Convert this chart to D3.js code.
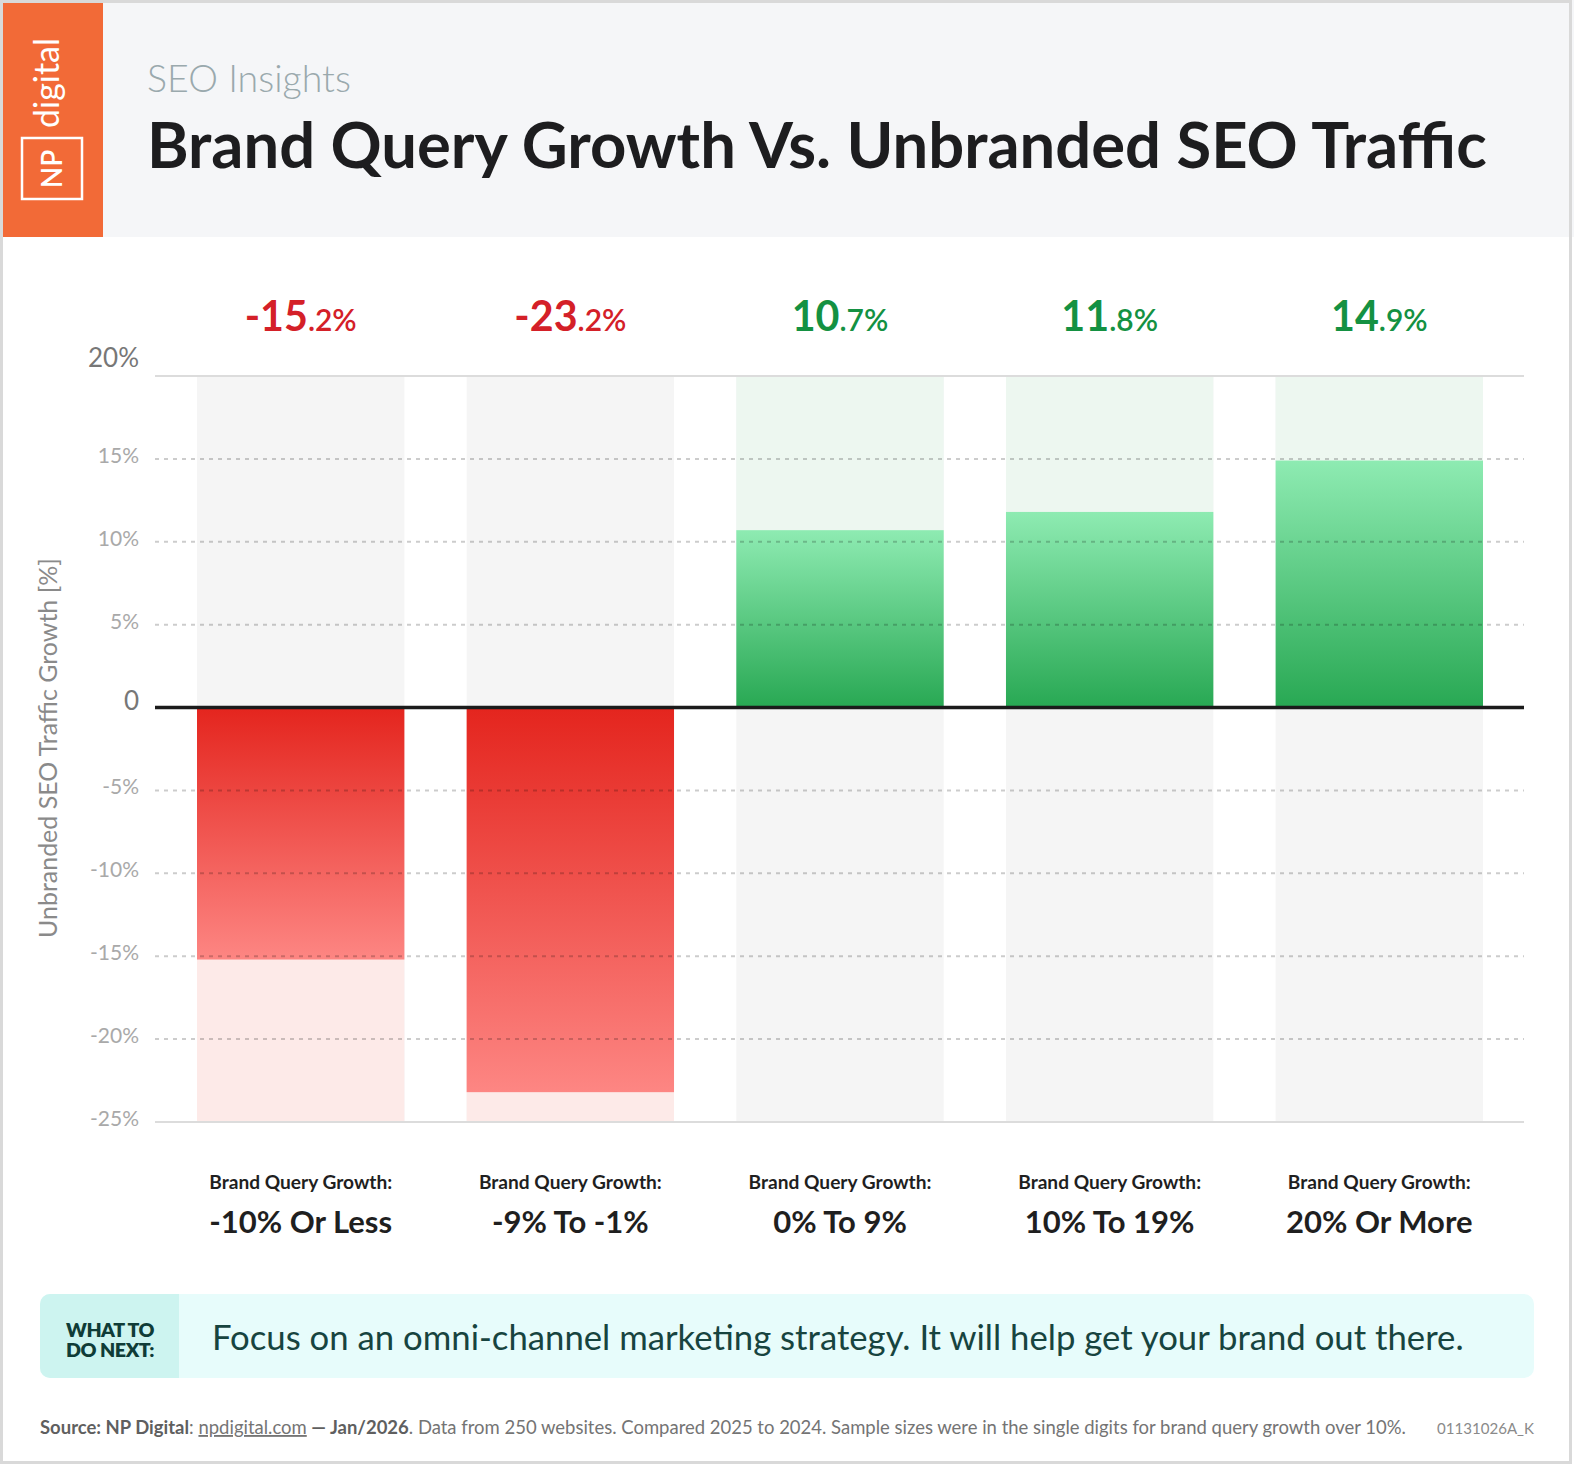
<!DOCTYPE html>
<html>
<head>
<meta charset="utf-8">
<script src="https://cdn.jsdelivr.net/npm/d3@7"></script>
<style>
    body { margin: 0; background: #fff; }
    svg { display: block; font-family: Lato, 'Open Sans', sans-serif; }
</style>
</head>
<body>
<div class="canvas"></div>
<script>
const categories = ['-10% Or Less', '-9% To -1%', '0% To 9%', '10% To 19%', '20% Or More'];
const values = [-15.2, -23.2, 10.7, 11.8, 14.9];
const yTicks = [20, 15, 10, 5, 0, -5, -10, -15, -20, -25];
const categoryPrefix = 'Brand Query Growth:';

const width = 1574, height = 1466;
const plotL = 155, plotR = 1524, plotT = 376, plotB = 1122;

const svg = d3.select('.canvas')
    .append('svg')
    .attr('width', width)
    .attr('height', height)
    ;

// scale font-size so the text is the wanted width, returns factor
const fit = (sel, target) => {
    const k = target / sel.node().getComputedTextLength();
    sel.style('font-size', (parseFloat(sel.style('font-size')) * k) + 'px');
    return k;
};

const defs = svg.append('defs');
const redGrad = defs.append('linearGradient').attr('id', 'red-grad').attr('x1', 0).attr('y1', 0).attr('x2', 0).attr('y2', 1);
redGrad.append('stop').attr('offset', '0%').attr('stop-color', '#e4251e');
redGrad.append('stop').attr('offset', '100%').attr('stop-color', '#fd8683');
const greenGrad = defs.append('linearGradient').attr('id', 'green-grad').attr('x1', 0).attr('y1', 0).attr('x2', 0).attr('y2', 1);
greenGrad.append('stop').attr('offset', '0%').attr('stop-color', '#8eebb2');
greenGrad.append('stop').attr('offset', '100%').attr('stop-color', '#28a853');

//Header
svg.append('rect')
    .attr('x', 0).attr('y', 0)
    .attr('width', width).attr('height', 237)
    .attr('fill', '#f5f6f8')
    ;
svg.append('rect')
    .attr('x', 0).attr('y', 0)
    .attr('width', 103).attr('height', 237)
    .attr('fill', '#f26a37')
    ;
svg.append('rect')
    .attr('x', 22).attr('y', 138)
    .attr('width', 60).attr('height', 61)
    .attr('fill', 'none')
    .attr('stroke', '#fff')
    .attr('stroke-width', 2.5)
    ;
svg.append('text')
    .attr('transform', 'translate(62, 169) rotate(-90)')
    .attr('text-anchor', 'middle')
    .attr('fill', '#fff')
    .style('font-size', '28px')
    .style('font-weight', 600)
    .text('NP')
    ;
const logoText = svg.append('text')
    .attr('transform', 'translate(59, 128) rotate(-90)')
    .attr('fill', '#fff')
    .style('font-size', '28px')
    .text('digital')
    ;
fit(logoText, 90);

svg.append('text')
    .attr('x', 147).attr('y', 92)
    .attr('fill', '#9aa9ad')
    .style('font-size', '38px')
    .style('font-weight', 300)
    .text('SEO Insights')
    .call(s => fit(s, 204))
    ;
svg.append('text')
    .attr('id', 'title')
    .attr('x', 147).attr('y', 168)
    .attr('fill', '#1d1d1f')
    .style('font-size', '60px')
    .style('font-weight', 700)
    .text('Brand Query Growth Vs. Unbranded SEO Traffic')
    .call(s => fit(s, 1340))
    ;

//Scales
const xScale = d3.scaleBand()
    .domain(categories)
    .range([197, 1483])
    .paddingInner(0.231)
    ;
const yScale = d3.scaleLinear()
    .domain([-25, 20])
    .range([plotB, plotT])
    ;
const y0 = yScale(0);

//Column backgrounds and tracks
const cols = svg.append('g').attr('id', 'columns');
cols.selectAll('rect.bg')
    .data(categories)
    .enter()
    .append('rect')
    .attr('class', 'bg')
    .attr('x', d => xScale(d))
    .attr('width', xScale.bandwidth())
    .attr('y', plotT)
    .attr('height', plotB - plotT)
    .attr('fill', '#f5f5f5')
    ;
cols.selectAll('rect.track')
    .data(values)
    .enter()
    .append('rect')
    .attr('class', 'track')
    .attr('x', (d, i) => xScale(categories[i]))
    .attr('width', xScale.bandwidth())
    .attr('y', d => d < 0 ? y0 : plotT)
    .attr('height', d => d < 0 ? plotB - y0 : y0 - plotT)
    .attr('fill', d => d < 0 ? '#fdeae8' : '#edf7f0')
    ;

//Bars
svg.selectAll('rect.bar')
    .data(values)
    .enter()
    .append('rect')
    .attr('class', 'bar')
    .attr('x', (d, i) => xScale(categories[i]))
    .attr('width', xScale.bandwidth())
    .attr('y', d => yScale(Math.max(0, d)))
    .attr('height', d => Math.abs(yScale(d) - y0))
    .attr('fill', d => d < 0 ? 'url(#red-grad)' : 'url(#green-grad)')
    ;

//Grid lines
svg.append('g')
    .attr('id', 'grid')
    .selectAll('line')
    .data(yTicks)
    .enter()
    .append('line')
    .attr('x1', plotL).attr('x2', plotR)
    .attr('y1', d => yScale(d)).attr('y2', d => yScale(d))
    .attr('stroke', d => d === 0 ? '#1b1b1b' : (d === 20 || d === -25) ? '#dcdcdc' : '#000')
    .attr('stroke-opacity', d => (d === 0 || d === 20 || d === -25) ? 1 : 0.2)
    .attr('stroke-width', d => d === 0 ? 3.5 : 2)
    .attr('stroke-dasharray', d => (d === 0 || d === 20 || d === -25) ? null : '4 5')
    ;
svg.select('#grid').selectAll('line').filter(d => d === 0).raise();

//Y axis labels
svg.append('g')
    .attr('id', 'y-axis')
    .selectAll('text')
    .data(yTicks)
    .enter()
    .append('text')
    .attr('x', 139)
    .attr('y', d => yScale(d) + (d === 20 ? -9 : d === 0 ? 2 : 4))
    .attr('text-anchor', 'end')
    .attr('fill', d => (d === 20 || d === 0) ? '#777' : '#a9a9a9')
    .style('font-size', d => (d === 20 || d === 0) ? '26px' : '21px')
    .text(d => d === 0 ? '0' : d + '%')
    ;
svg.append('text')
    .attr('transform', 'translate(57, 748) rotate(-90)')
    .attr('text-anchor', 'middle')
    .attr('fill', '#8a8a8a')
    .style('font-size', '22px')
    .text('Unbranded SEO Traffic Growth [%]')
    .call(s => fit(s, 380))
    ;

//Value labels
const valueLabels = svg.append('g')
    .attr('id', 'values')
    .selectAll('text')
    .data(values)
    .enter()
    .append('text')
    .attr('x', (d, i) => xScale(categories[i]) + xScale.bandwidth() / 2)
    .attr('y', 331)
    .attr('text-anchor', 'middle')
    .attr('fill', d => d < 0 ? '#d42028' : '#149142')
    .style('font-weight', 700)
    ;
valueLabels.append('tspan')
    .attr('class', 'big')
    .style('font-size', '44px')
    .text(d => d.toFixed(1).split('.')[0])
    ;
valueLabels.append('tspan')
    .attr('class', 'small')
    .style('font-size', '32px')
    .style('font-weight', 600)
    .text(d => '.' + d.toFixed(1).split('.')[1] + '%')
    ;
{
    const k = 112 / valueLabels.node().getComputedTextLength();
    valueLabels.selectAll('tspan.big').style('font-size', (44 * k) + 'px');
    valueLabels.selectAll('tspan.small').style('font-size', (32 * k) + 'px');
}

//Category labels
const catG = svg.append('g').attr('id', 'x-axis');
const pre = catG.selectAll('text.pre')
    .data(categories)
    .enter()
    .append('text')
    .attr('class', 'pre')
    .attr('x', d => xScale(d) + xScale.bandwidth() / 2)
    .attr('y', 1189)
    .attr('text-anchor', 'middle')
    .attr('fill', '#1f1f1f')
    .style('font-size', '18px')
    .style('font-weight', 700)
    .text(categoryPrefix)
    ;
const k1 = 183 / pre.node().getComputedTextLength();
pre.style('font-size', (18 * k1) + 'px');
const cat = catG.selectAll('text.cat')
    .data(categories)
    .enter()
    .append('text')
    .attr('class', 'cat')
    .attr('x', d => xScale(d) + xScale.bandwidth() / 2)
    .attr('y', 1233)
    .attr('text-anchor', 'middle')
    .attr('fill', '#1f1f1f')
    .style('font-size', '30px')
    .style('font-weight', 700)
    .text(d => d)
    ;
const k2 = 183 / cat.node().getComputedTextLength();
cat.style('font-size', (30 * k2) + 'px');

//What to do next box
svg.append('rect')
    .attr('x', 40).attr('y', 1294)
    .attr('width', 1494).attr('height', 84)
    .attr('rx', 10)
    .attr('fill', '#e7fcfb')
    ;
svg.append('rect')
    .attr('x', 40).attr('y', 1294)
    .attr('width', 139).attr('height', 84)
    .attr('rx', 10)
    .attr('fill', '#cdf4f0')
    ;
svg.append('rect')
    .attr('x', 165).attr('y', 1294)
    .attr('width', 14).attr('height', 84)
    .attr('fill', '#cdf4f0')
    ;
['WHAT TO', 'DO NEXT:'].forEach((t, i) => {
    svg.append('text')
        .attr('x', 110).attr('y', 1337 + i * 20)
        .attr('text-anchor', 'middle')
        .attr('fill', '#0f3c37')
        .style('font-size', '20px')
        .style('font-weight', 800)
        .style('letter-spacing', '-0.5px')
        .text(t)
        .call(s => fit(s, 88))
        ;
});
svg.append('text')
    .attr('x', 212).attr('y', 1350)
    .attr('fill', '#17443f')
    .style('font-size', '32px')
    .style('font-weight', 400)
    .text('Focus on an omni-channel marketing strategy. It will help get your brand out there.')
    .call(s => fit(s, 1252))
    ;

//Footer
const foot = svg.append('text')
    .attr('x', 40).attr('y', 1434)
    .attr('fill', '#747474')
    .style('font-size', '16px')
    ;
foot.append('tspan').style('font-weight', 700).attr('fill', '#5f5f5f').text('Source: NP Digital');
foot.append('tspan').text(': ');
foot.append('tspan').style('text-decoration', 'underline').text('npdigital.com');
foot.append('tspan').style('font-weight', 700).attr('fill', '#5f5f5f').text(' — Jan/2026');
foot.append('tspan').text('. Data from 250 websites. Compared 2025 to 2024. Sample sizes were in the single digits for brand query growth over 10%.');
{
    const k = 1367 / foot.node().getComputedTextLength();
    foot.style('font-size', (16 * k) + 'px');
}
svg.append('text')
    .attr('x', 1534).attr('y', 1434)
    .attr('text-anchor', 'end')
    .attr('fill', '#8a8a8a')
    .style('font-size', '16px')
    .text('01131026A_K')
    .call(s => fit(s, 97))
    ;

//Frame
svg.append('rect')
    .attr('x', 1.5).attr('y', 1.5)
    .attr('width', width - 5).attr('height', height - 5)
    .attr('fill', 'none')
    .attr('stroke', '#d9d9d9')
    .attr('stroke-width', 3)
    ;
</script>
</body>
</html>
